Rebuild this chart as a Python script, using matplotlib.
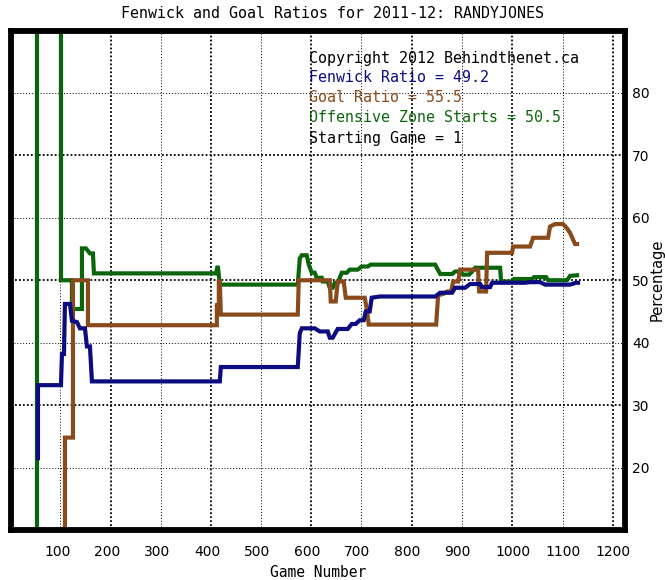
import matplotlib
matplotlib.use("Agg")
import matplotlib.pyplot as plt
from matplotlib.transforms import ScaledTranslation

# ---------------- data ----------------
title = "Fenwick and Goal Ratios for 2011-12: RANDYJONES"
x_ticks = [100, 200, 300, 400, 500, 600, 700, 800, 900, 1000, 1100, 1200]
y_ticks = [20, 30, 40, 50, 60, 70, 80]
grid_x = [106, 207, 307, 408, 508, 608, 708, 809, 910, 1010, 1111, 1212]

fen_x = [61, 61, 107, 109, 113, 115, 125, 129, 139, 145, 155, 159, 165, 169, 425, 427,
         581, 585, 589, 615, 625, 641, 645, 651, 661, 681, 689, 697, 705, 713, 717, 725,
         729, 745, 856, 866, 890, 896, 916, 926, 946, 950, 966, 970, 1036, 1046, 1066,
         1076, 1126, 1138, 1142]
fen_y = [21.5, 33.2, 33.2, 38.2, 38.2, 46.2, 46.2, 43.5, 43.3, 42.3, 42.3, 39.4, 39.4, 33.8, 33.8, 36.1,
         36.1, 41.5, 42.3, 42.3, 41.8, 41.8, 40.8, 40.8, 42.2, 42.2, 43.0, 43.0, 43.6, 43.6, 45.0, 45.0,
         47.2, 47.4, 47.4, 48.0, 48.0, 48.8, 48.8, 49.4, 49.4, 48.9, 48.9, 49.6, 49.6, 49.7, 49.7,
         49.3, 49.3, 49.6, 49.6]

goal_x = [115, 115, 131, 131, 161, 161, 419, 419, 423, 423, 425, 427, 581, 583, 645, 647,
          657, 661, 673, 677, 715, 719, 723, 858, 862, 872, 880, 888, 892, 902, 906, 942,
          944, 958, 960, 1010, 1012, 1046, 1052, 1082, 1086, 1096, 1112, 1120, 1126, 1136, 1140]
goal_y = [0, 24.8, 24.8, 50.0, 50.0, 42.8, 42.8, 46.0, 46.0, 49.8, 49.8, 44.5, 44.5, 50.0, 50.0, 46.6,
          46.6, 49.8, 49.8, 47.2, 47.2, 45.5, 42.9, 42.9, 47.6, 47.8, 48.2, 48.2, 49.8, 49.8, 51.7, 51.7,
          48.2, 48.2, 54.4, 54.4, 55.4, 55.4, 56.8, 56.8, 58.6, 59.0, 59.0, 58.3, 57.6, 55.8, 55.8]

ozs_x = [59, 59, 107, 107, 129, 129, 149, 149, 157, 165, 171, 173, 417, 421, 425, 581,
         585, 589, 599, 603, 609, 615, 619, 629, 631, 641, 645, 651, 655, 661, 669, 679,
         685, 701, 709, 721, 727, 856, 862, 866, 890, 896, 906, 912, 924, 930, 936, 986,
         988, 1010, 1014, 1050, 1054, 1078, 1082, 1120, 1126, 1140]
ozs_y = [0, 100, 100, 50.0, 50.0, 45.4, 45.4, 55.1, 55.1, 54.3, 54.3, 51.1, 51.1, 52.3, 49.3, 49.3,
         53.5, 54.0, 54.0, 52.5, 51.2, 51.2, 50.4, 50.4, 49.8, 49.8, 48.8, 48.8, 49.6, 49.6, 51.2, 51.2,
         51.7, 51.7, 52.2, 52.2, 52.5, 52.5, 51.6, 51.0, 51.0, 51.4, 51.4, 50.9, 50.9, 51.4, 52.0, 52.0,
         49.8, 49.8, 50.2, 50.2, 50.5, 50.5, 50.0, 50.0, 50.7, 50.8]

legend_lines = ["Copyright 2012 Behindthenet.ca", "Fenwick Ratio = 49.2",
                "Goal Ratio = 55.5", "Offensive Zone Starts = 50.5", "Starting Game = 1"]

# ---------------- style ----------------
C_FEN = "#0c0c80"
C_GOAL = "#8a4b1c"
C_OZS = "#0b660b"
legend_colors = ["black", C_FEN, C_GOAL, C_OZS, "black"]

fig = plt.figure(figsize=(6.65, 5.8), dpi=100)
ax = fig.add_axes([11/665, 50/580, 614/665, 499.5/580])
ax.set_xlim(7, 1236)
ax.set_ylim(10, 90)

# grid lines (alternating fine dotted / dense hatched)
for i, gx in enumerate(grid_x):
    if i % 2 == 0:
        ax.axvline(gx, color="black", lw=0.7, ls=(0, (1, 2)), zorder=1)
    else:
        ax.axvline(gx, color="black", lw=1.3, ls=(0, (1, 1.2)), zorder=1)
for i, gy in enumerate(y_ticks):
    if i % 2 == 0:
        ax.axhline(gy, color="black", lw=0.7, ls=(0, (1, 2)), zorder=1)
    else:
        ax.axhline(gy, color="black", lw=1.3, ls=(0, (1, 1.2)), zorder=1)

lw = 3.0
ax.plot(ozs_x, ozs_y, color=C_OZS, lw=lw, zorder=3, solid_joinstyle="miter")
ax.plot(goal_x, goal_y, color=C_GOAL, lw=lw, zorder=4, solid_joinstyle="miter")
ax.plot(fen_x, fen_y, color=C_FEN, lw=lw, zorder=5, solid_joinstyle="miter")

for s in ax.spines.values():
    s.set_linewidth(4.2)
    s.set_color("black")
    s.set_zorder(10)

ax.set_xticks(x_ticks)
ax.set_xticklabels([str(v) for v in x_ticks])
ax.set_yticks(y_ticks)
ax.set_yticklabels([str(v) for v in y_ticks])
ax.yaxis.tick_right()
ax.tick_params(axis="x", length=0, pad=11, labelsize=10)
ax.tick_params(axis="y", length=0, pad=5, labelsize=10)
for lbl in ax.get_xticklabels():
    if len(lbl.get_text()) == 4:
        lbl.set_transform(lbl.get_transform() + ScaledTranslation(6/100, 0, fig.dpi_scale_trans))

ax.set_xlabel("Game Number", family="DejaVu Sans Mono", fontsize=10.5, labelpad=4)
ax.yaxis.set_label_position("right")
ax.set_ylabel("Percentage", fontsize=10.5, labelpad=0)

fig.text(0.5, 1 - 13/580, title, ha="center", va="center",
         family="DejaVu Sans Mono", fontsize=10.8)

for i, (t, c) in enumerate(zip(legend_lines, legend_colors)):
    ax.text(0.485, (530 - 58 - 20 * i) / 499.5, t, transform=ax.transAxes,
            ha="left", va="center", family="DejaVu Sans Mono", fontsize=10.8,
            color=c, zorder=6)

fig.savefig("out.png", dpi=100)
